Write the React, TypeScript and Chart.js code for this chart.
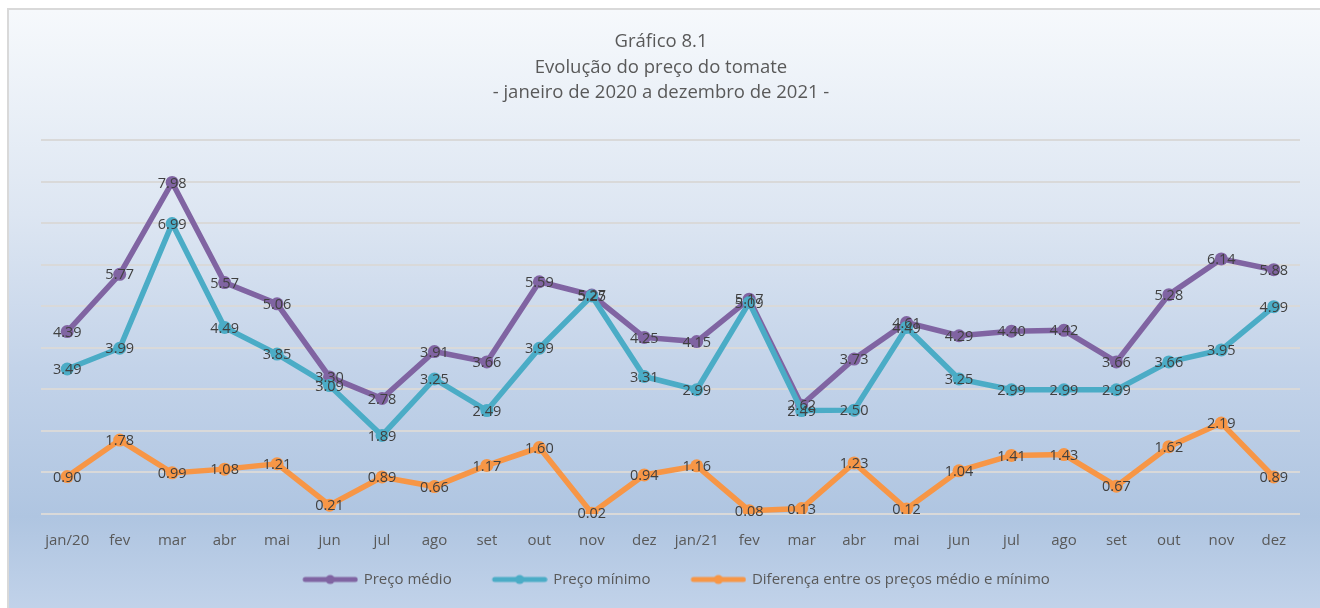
import React, { useEffect, useRef } from "react";
import { Chart, registerables } from "chart.js";

Chart.register(...registerables);

const categories = [
  "jan/20", "fev", "mar", "abr", "mai", "jun", "jul", "ago", "set", "out", "nov", "dez",
  "jan/21", "fev", "mar", "abr", "mai", "jun", "jul", "ago", "set", "out", "nov", "dez",
];

const precoMedio = [
  4.39, 5.77, 7.98, 5.57, 5.06, 3.3, 2.78, 3.91, 3.66, 5.59, 5.27, 4.25,
  4.15, 5.17, 2.62, 3.73, 4.61, 4.29, 4.4, 4.42, 3.66, 5.28, 6.14, 5.88,
];

const precoMinimo = [
  3.49, 3.99, 6.99, 4.49, 3.85, 3.09, 1.89, 3.25, 2.49, 3.99, 5.25, 3.31,
  2.99, 5.09, 2.49, 2.5, 4.49, 3.25, 2.99, 2.99, 2.99, 3.66, 3.95, 4.99,
];

const diferenca = [
  0.9, 1.78, 0.99, 1.08, 1.21, 0.21, 0.89, 0.66, 1.17, 1.6, 0.02, 0.94,
  1.16, 0.08, 0.13, 1.23, 0.12, 1.04, 1.41, 1.43, 0.67, 1.62, 2.19, 0.89,
];

const seriesNames = ["Preço médio", "Preço mínimo", "Diferença entre os preços médio e mínimo"];
const seriesColors = ["#8064A2", "#4BACC6", "#F79646"];
const titleLines = ["Gráfico 8.1", "Evolução do preço do tomate", "- janeiro de 2020 a dezembro de 2021 -"];

const FONT = '"Open Sans", "Noto Sans", sans-serif';

function makeLegendMarker(color: string): HTMLCanvasElement {
  const c = document.createElement("canvas");
  c.width = 88;
  c.height = 12;
  const ctx = c.getContext("2d")!;
  ctx.strokeStyle = color;
  ctx.lineWidth = 5;
  ctx.lineCap = "round";
  ctx.beginPath();
  ctx.moveTo(35, 6);
  ctx.lineTo(85, 6);
  ctx.stroke();
  ctx.fillStyle = color;
  ctx.beginPath();
  ctx.arc(60, 6, 4.5, 0, Math.PI * 2);
  ctx.fill();
  return c;
}

const dataLabelPlugin = {
  id: "dataLabels",
  afterDatasetsDraw(chart: any) {
    const ctx = chart.ctx;
    ctx.save();
    ctx.font = `14.5px ${FONT}`;
    ctx.fillStyle = "#404040";
    ctx.textAlign = "center";
    ctx.textBaseline = "middle";
    chart.data.datasets.forEach((ds: any, i: number) => {
      const meta = chart.getDatasetMeta(i);
      meta.data.forEach((pt: any, j: number) => {
        ctx.fillText(Number(ds.data[j]).toFixed(2), pt.x, pt.y + 1);
      });
    });
    ctx.restore();
  },
};

export default function App() {
  const ref = useRef<HTMLCanvasElement>(null);

  useEffect(() => {
    if (!ref.current) return;
    const markers = seriesColors.map(makeLegendMarker);
    const allData = [precoMedio, precoMinimo, diferenca];
    const chart = new Chart(ref.current, {
      type: "line",
      data: {
        labels: categories,
        datasets: allData.map((d, i) => ({
          label: seriesNames[i],
          data: d,
          borderColor: seriesColors[i],
          backgroundColor: seriesColors[i],
          pointBackgroundColor: seriesColors[i],
          pointBorderWidth: 0,
          pointRadius: 6.5,
          borderWidth: 5.5,
          tension: 0,
          order: 3 - i,
        })),
      },
      options: {
        animation: false,
        responsive: false,
        maintainAspectRatio: false,
        layout: { padding: { top: 29, left: 22, right: 20, bottom: 11 } },
        scales: {
          x: {
            offset: true,
            grid: { display: false },
            border: { display: false },
            ticks: {
              autoSkip: false,
              maxRotation: 0,
              color: "#595959",
              font: { family: FONT, size: 15 },
              padding: 10,
            },
            afterFit: (scale: any) => {
              scale.height = 48;
            },
          },
          y: {
            min: 0,
            max: 9,
            ticks: { display: false, stepSize: 1 },
            grid: { color: "#d9d9d9", lineWidth: 2, drawTicks: false },
            border: { display: false },
            afterFit: (scale: any) => {
              scale.width = 19;
            },
          },
        },
        plugins: {
          title: {
            display: true,
            text: titleLines,
            color: "#595959",
            font: { family: FONT, size: 18.5, weight: "normal", lineHeight: 1.38 },
            padding: { top: 0, bottom: 34.5 },
          },
          legend: {
            position: "bottom",
            labels: {
              usePointStyle: true,
              pointStyleWidth: 84,
              padding: 10,
              color: "#595959",
              font: { family: FONT, size: 15 },
              generateLabels: () =>
                seriesNames.map((name, i) => ({
                  text: name,
                  pointStyle: markers[i],
                  fillStyle: seriesColors[i],
                  strokeStyle: seriesColors[i],
                  lineWidth: 0,
                  hidden: false,
                  datasetIndex: i,
                  fontColor: "#595959",
                })),
            },
          },
          tooltip: { enabled: false },
        },
      },
      plugins: [dataLabelPlugin],
    });
    return () => chart.destroy();
  }, []);

  return (
    <div style={{ position: "fixed", left: 0, top: 0, width: 1320, height: 608, overflow: "hidden", background: "#fff" }}>
      <div
        style={{
          position: "absolute",
          left: 7,
          top: 8,
          width: 1330,
          height: 620,
          boxSizing: "border-box",
          borderLeft: "2px solid #d9d9d9",
          borderTop: "2px solid #d9d9d9",
          background: "linear-gradient(to bottom, #f6f9fc 0%, #dde6f2 33%, #c3d3e9 58%, #afc5e1 82%, #c5d5eb 100%)",
        }}
      />
      <canvas ref={ref} width={1320} height={608} style={{ position: "absolute", left: 0, top: 0, width: 1320, height: 608 }} />
    </div>
  );
}
